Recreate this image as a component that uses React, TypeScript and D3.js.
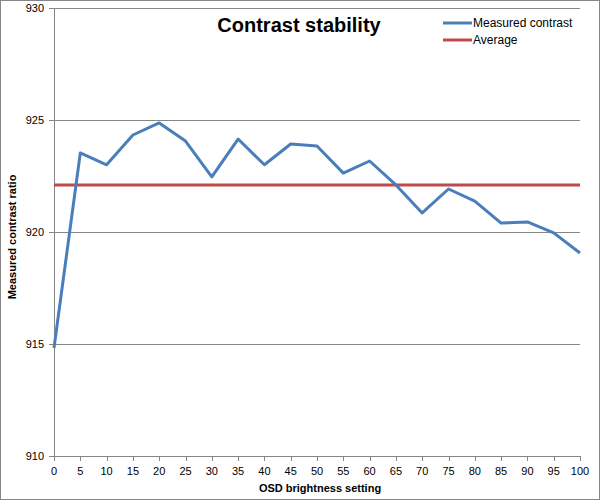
import React from "react";
import * as d3 from "d3";

const settings = [0, 5, 10, 15, 20, 25, 30, 35, 40, 45, 50, 55, 60, 65, 70, 75, 80, 85, 90, 95, 100];
const measured = [914.82, 923.53, 923.0, 924.33, 924.87, 924.06, 922.46, 924.15, 923.0, 923.93, 923.84, 922.63, 923.17, 922.1, 920.85, 921.92, 921.38, 920.4, 920.45, 919.96, 919.06];
const average = 922.1;
const yTicks = [910, 915, 920, 925, 930];
const seriesNames = ["Measured contrast", "Average"];
const colors = ["#4a7ebb", "#be4b48"];

export default function App() {
  const W = 600, H = 500;
  const left = 54, right = 580, top = 8, bottom = 456;
  const x = d3.scalePoint<number>().domain(settings).range([left, right]);
  const y = d3.scaleLinear().domain([910, 930]).range([bottom, top]);
  const line = d3.line<number>().x((_, i) => x(settings[i])!).y((d) => y(d));
  const font = "'Liberation Sans', Arial, sans-serif";
  return (
    <svg width={W} height={H} style={{ position: "absolute", left: 0, top: 0 }} fontFamily={font}>
      <rect x={0.5} y={0.5} width={W - 1} height={H - 1} fill="#fff" stroke="#868686" />
      {yTicks.map((t) => (
        <g key={t}>
          <line x1={left - 5} x2={right} y1={Math.round(y(t)) + 0.5} y2={Math.round(y(t)) + 0.5} stroke="#868686" />
          <text x={44} y={y(t) + 4} textAnchor="end" fontSize={11}>{t}</text>
        </g>
      ))}
      <line x1={left + 0.5} x2={left + 0.5} y1={top} y2={bottom} stroke="#868686" />
      {settings.map((s) => (
        <g key={s}>
          <line x1={Math.round(x(s)!) + 0.5} x2={Math.round(x(s)!) + 0.5} y1={bottom} y2={bottom + 5} stroke="#868686" />
          <text x={x(s)!} y={bottom + 19} textAnchor="middle" fontSize={11}>{s}</text>
        </g>
      ))}
      <line x1={left} x2={right} y1={y(average)} y2={y(average)} stroke={colors[1]} strokeWidth={3} />
      <path d={line(measured)!} fill="none" stroke={colors[0]} strokeWidth={3} strokeLinejoin="round" />
      <text x={299} y={32} textAnchor="middle" fontSize={20} fontWeight="bold">Contrast stability</text>
      {seriesNames.map((n, i) => (
        <g key={n}>
          <line x1={443} x2={472} y1={23 + i * 17} y2={23 + i * 17} stroke={colors[i]} strokeWidth={3} />
          <text x={473} y={27 + i * 17} fontSize={12}>{n}</text>
        </g>
      ))}
      <text transform={`translate(16,${(top + bottom) / 2 + 5}) rotate(-90)`} textAnchor="middle" fontSize={11} fontWeight="bold">Measured contrast ratio</text>
      <text x={320} y={492} textAnchor="middle" fontSize={11} fontWeight="bold">OSD brightness setting</text>
    </svg>
  );
}
